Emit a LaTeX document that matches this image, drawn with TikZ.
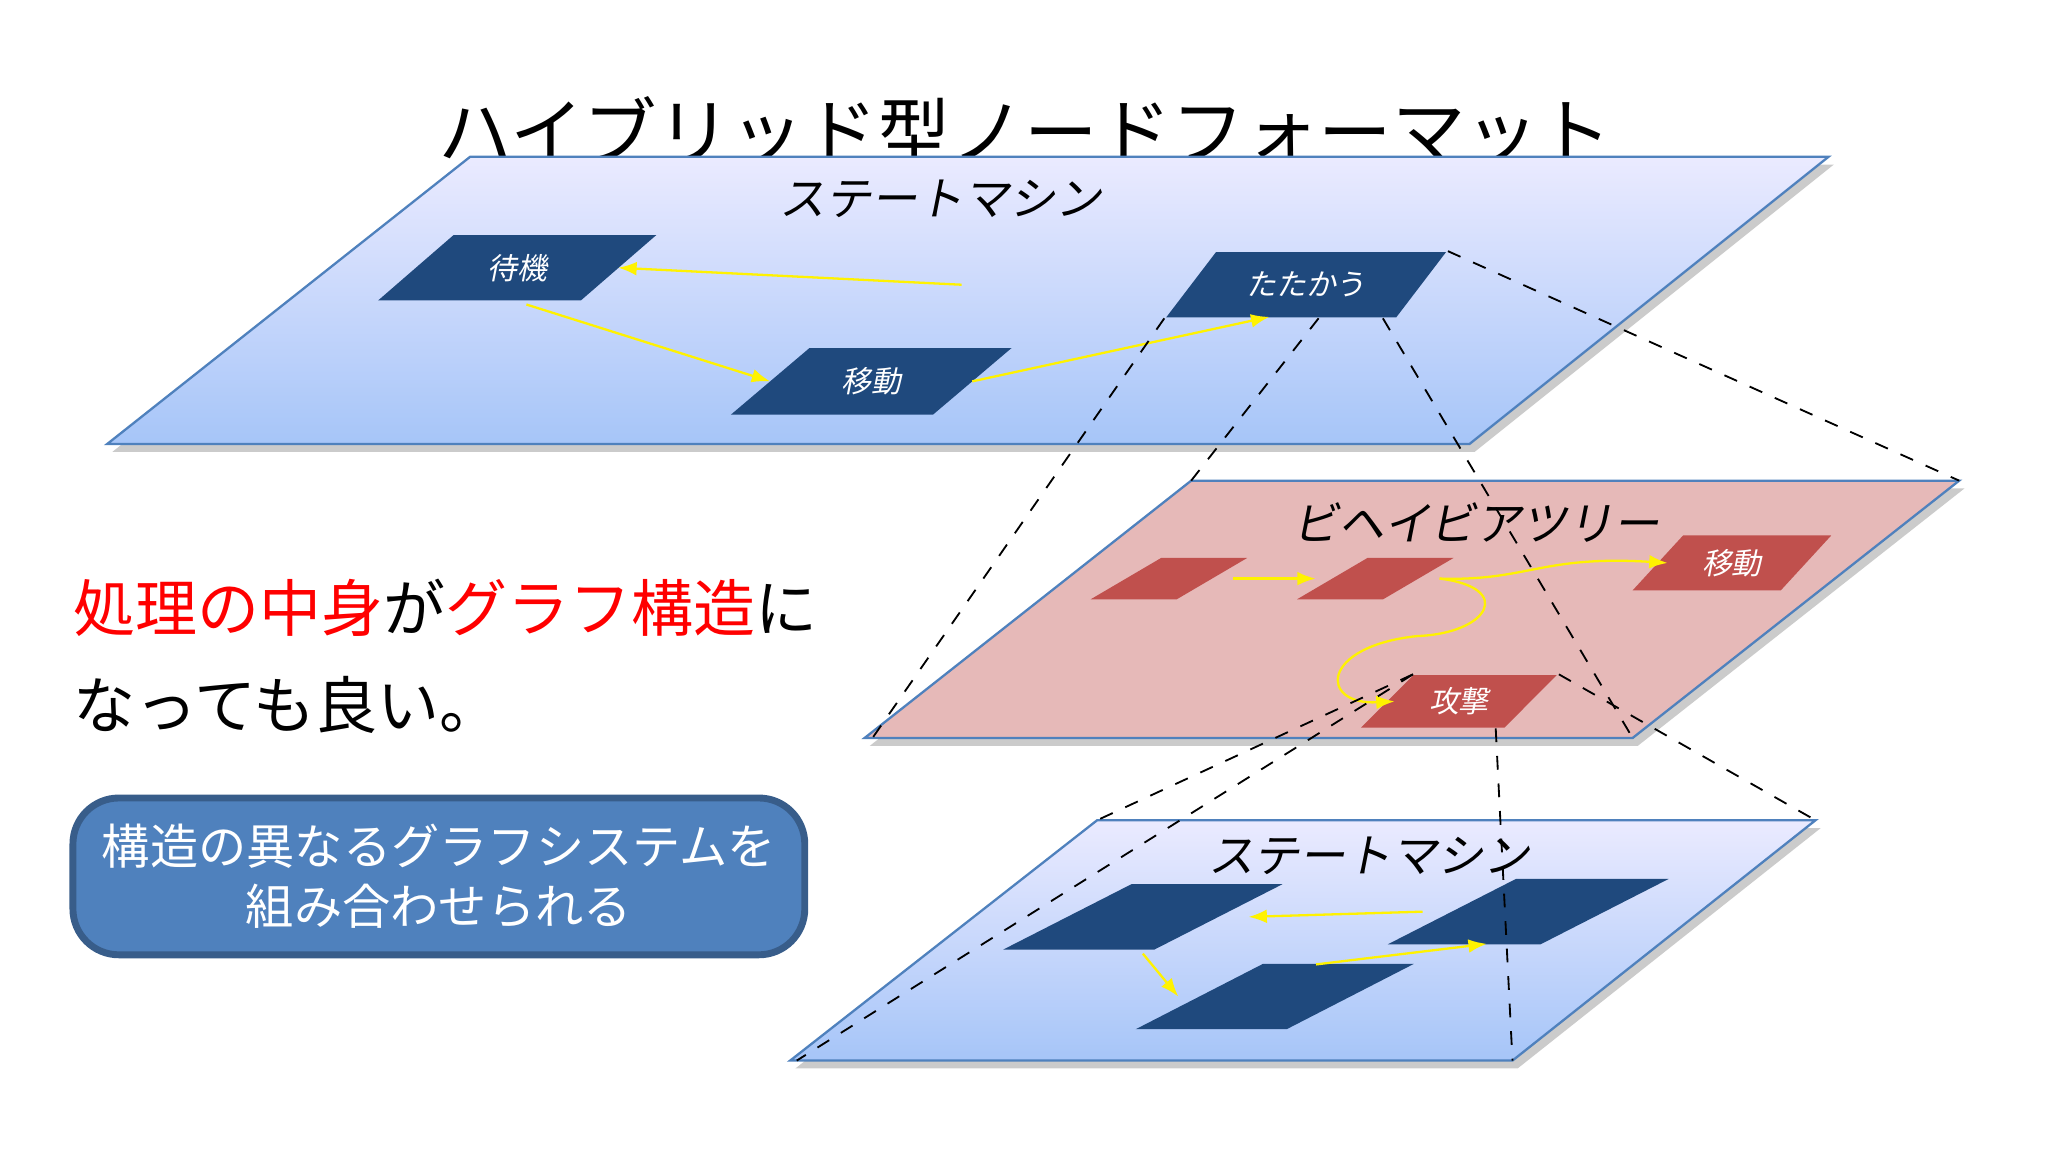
\documentclass[tikz,border=0pt]{standalone}
\usepackage{fontspec}
\setmainfont{Noto Sans CJK JP}
\newfontfamily\slnt[FakeSlant=0.2]{Noto Sans CJK JP}
\usetikzlibrary{shapes.geometric, arrows.meta}
\definecolor{navy}{HTML}{1F497D}
\definecolor{brick}{HTML}{C0504D}
\definecolor{frame}{HTML}{4F81BD}
\definecolor{rose}{HTML}{E6B9B8}
\begin{document}
\begin{tikzpicture}[x=0.01cm, y=-0.01cm,
  state/.style={trapezium, trapezium stretches=true, fill=navy, text=white,
    inner sep=1pt, font=\slnt\fontsize{6.5}{7}\selectfont},
  leaf/.style={state, fill=brick},
  flow/.style={draw=yellow, line width=0.5pt, -{Latex[length=4pt,width=3pt]}},
  zoom/.style={dashed, line width=0.4pt},
  plane/.style={draw=frame, line width=0.5pt},
  shadow/.style={fill=black!40, opacity=0.5},
  heading/.style={font=\slnt\fontsize{10}{12}\selectfont}]

  \useasboundingbox (0,0) rectangle (1568,882);
  \fill[white] (0,0) rectangle (1568,882);

  % title, partly hidden by the top plane
  \node (title) at (785,100) {\fontsize{16}{18}\selectfont ハイブリッド型ノードフォーマット};

  % top plane
  \fill[shadow] (86,346) -- (364,126) -- (1404,126) -- (1129,346) -- cycle;
  \shade[plane, top color=blue!8!white, bottom color={rgb,255:red,166;green,197;blue,248}]
    (82,340) -- (360,120) -- (1400,120) -- (1125,340) -- cycle;
  \node[heading] (sm1) at (720,152) {ステートマシン};
  \node[state, trapezium left angle=42, trapezium right angle=138,
    minimum width=2.13cm, minimum height=0.5cm] (wait) at (396,205) {待機};
  \node[state, trapezium left angle=44, trapezium right angle=136,
    minimum width=2.15cm, minimum height=0.5cm] (fight) at (1000,218) {たたかう};
  \node[state, trapezium left angle=40, trapezium right angle=140,
    minimum width=2.15cm, minimum height=0.51cm] (move) at (667,292) {移動};
  \draw[flow] ([xshift=-75pt]fight.center) -- ([xshift=22pt]wait.center);
  \draw[flow] ([xshift=2pt,yshift=-8pt]wait.center) -- ([xshift=-22pt]move.center);
  \draw[flow] ([xshift=22pt]move.center) -- ([xshift=-8pt,yshift=-7pt]fight.center);

  % middle plane
  \fill[shadow] (666,571) -- (916,374) -- (1504,374) -- (1254,571) -- cycle;
  \fill[rose] (662,565) -- (912,368) -- (1500,368) -- (1250,565) -- cycle;
  \draw[plane] (662,565) -- (912,368) -- (1500,368) -- (1250,565) -- cycle;
  \node[heading] (bt) at (1130,400) {ビヘイビアツリー};
  \node[leaf, trapezium left angle=45, trapezium right angle=135,
    minimum width=1.2cm, minimum height=0.25cm] (seq) at (895,443) {\strut};
  \node[leaf, trapezium left angle=45, trapezium right angle=135,
    minimum width=1.2cm, minimum height=0.27cm] (sel) at (1053,443) {\strut};
  \node[leaf, trapezium left angle=46, trapezium right angle=134,
    minimum width=1.52cm, minimum height=0.42cm] (walk) at (1326,431) {移動};
  \node[leaf, trapezium left angle=43, trapezium right angle=137,
    minimum width=1.5cm, minimum height=0.4cm] (attack) at (1117,537) {攻撃};
  \draw[flow] ([xshift=14pt]seq.center) -- ([xshift=-13pt]sel.center);
  \draw[flow] ([xshift=14pt]sel.center) .. controls (1170,445) and (1180,425) .. ([xshift=-14pt]walk.center);
  \draw[flow] ([xshift=14pt]sel.center) .. controls (1160,450) and (1140,485) .. (1085,487)
    .. controls (1010,495) and (1010,540) .. ([xshift=-14pt]attack.center);

  % dashed zoom from fight
  \draw[zoom] (fight.top right corner) -- (1500,368);
  \draw[zoom] (fight.bottom left corner) -- (668,565);
  \draw[zoom] ([xshift=-17pt]fight.bottom right corner) -- (912,368);
  \draw[zoom] ([xshift=-3pt]fight.bottom right corner) -- (1250,565);

  % bottom plane
  \fill[shadow] (609,818) -- (844,634) -- (1394,634) -- (1162,818) -- cycle;
  \shade[plane, top color=blue!8!white, bottom color={rgb,255:red,166;green,197;blue,248}]
    (605,812) -- (840,628) -- (1390,628) -- (1158,812) -- cycle;
  \node[heading] (sm2) at (1048,655) {ステートマシン};
  \node[state, trapezium left angle=39, trapezium right angle=141,
    minimum width=2.14cm, minimum height=0.5cm] (ida) at (875,702) {\strut};
  \node[state, trapezium left angle=41, trapezium right angle=139,
    minimum width=2.15cm, minimum height=0.5cm] (idb) at (1170,698) {\strut};
  \node[state, trapezium left angle=40, trapezium right angle=140,
    minimum width=2.13cm, minimum height=0.5cm] (idc) at (976,763) {\strut};
  \draw[flow] ([xshift=-23pt]idb.center) -- ([xshift=23pt]ida.center);
  \draw[flow] ([yshift=-8pt]ida.center) -- ([xshift=-21pt]idc.center);
  \draw[flow] ([xshift=9pt,yshift=7pt]idc.center) -- ([xshift=-9pt,yshift=-7pt]idb.center);

  % dashed zoom from attack
  \draw[zoom] (attack.top left corner) -- (840,628);
  \draw[zoom] (attack.top left corner) -- (610,812);
  \draw[zoom] (attack.top right corner) -- (1390,628);
  \draw[zoom] ([xshift=-2pt]attack.bottom right corner) -- (1158,812);

  % left texts
  \node[anchor=west, font=\fontsize{13.5}{16}\selectfont] (msg1) at (44,465)
    {\textcolor{red}{処理の中身}が\textcolor{red}{グラフ構造}に};
  \node[anchor=west, font=\fontsize{13.5}{16}\selectfont] (msg2) at (44,540) {なっても良い。};
  \node[draw={rgb,255:red,56;green,93;blue,138}, line width=1.5pt, fill=frame,
    rounded corners=10pt, minimum width=5.6cm, minimum height=1.2cm, align=center,
    text=white, font=\fontsize{10.5}{13}\selectfont] (note) at (336,671)
    {構造の異なるグラフシステムを\\組み合わせられる};
\end{tikzpicture}
\end{document}
